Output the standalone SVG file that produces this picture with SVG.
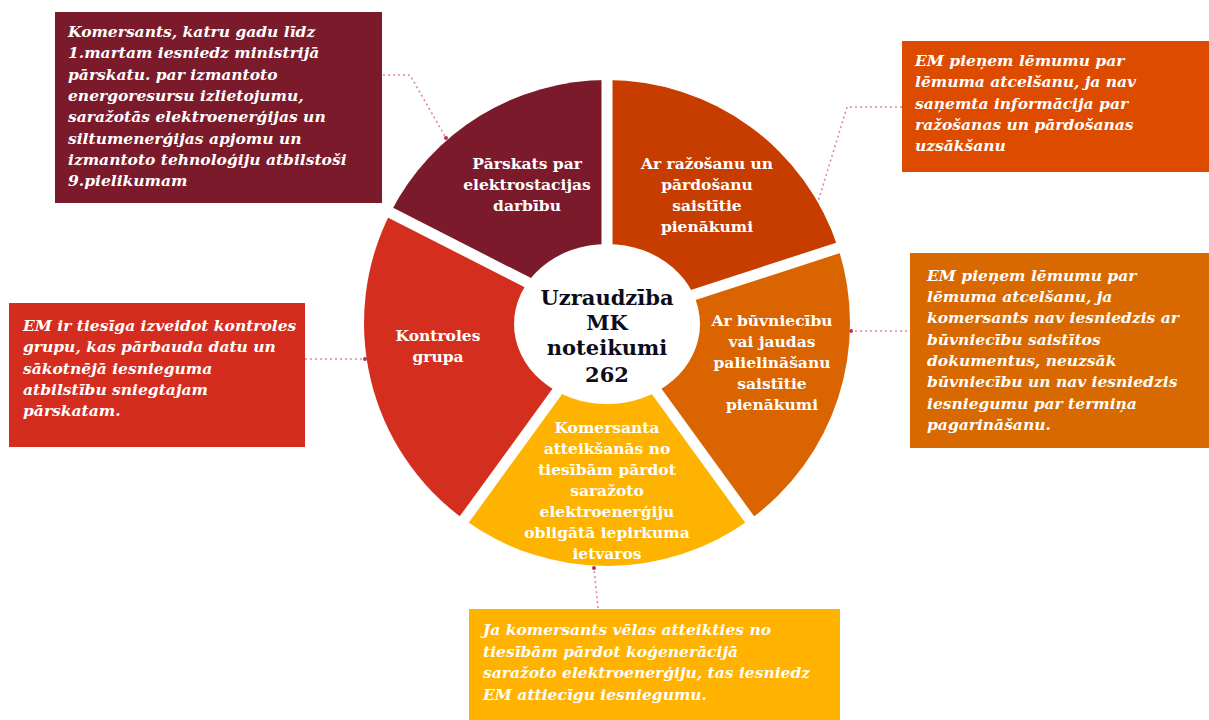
<svg xmlns="http://www.w3.org/2000/svg" width="1209" height="720" viewBox="0 0 1209 720">
<style>
.bt{font-family:"DejaVu Serif","Liberation Serif",serif;font-weight:bold;font-style:italic;font-size:15.5px;fill:#fff}
.st{font-family:"DejaVu Serif","Liberation Serif",serif;font-weight:bold;font-size:15.5px;fill:#fff;text-anchor:middle}
.ct{font-family:"DejaVu Serif","Liberation Serif",serif;font-weight:bold;font-size:21px;fill:#0d0d1a;text-anchor:middle}
.dl{fill:none;stroke:#de8a98;stroke-width:1.6;stroke-dasharray:2 3}
.dot{fill:#b8304e}
.gap{stroke:#fff;stroke-width:11}
</style>
<rect width="1209" height="720" fill="#fff"/>
<g id="connectors">
<polyline class="dl" points="383,75 410,75 446,138"/>
<circle class="dot" cx="446" cy="138" r="2"/>
<polyline class="dl" points="902,107 847,107 817,205"/>
<circle class="dot" cx="817" cy="205" r="2"/>
<line class="dl" x1="912" y1="331" x2="851" y2="331"/>
<circle class="dot" cx="851" cy="331" r="2"/>
<line class="dl" x1="305" y1="359" x2="365" y2="359"/>
<circle class="dot" cx="365" cy="359" r="2"/>
<line class="dl" x1="598" y1="608" x2="594" y2="568"/>
<circle class="dot" cx="594" cy="568" r="2"/>
</g>
<g id="donut">
<path id="seg-orange" d="M607,323 L607,80 A243,243 0 0 1 838.1,247.9 Z" fill="#c73d00"/>
<path id="seg-rorange" d="M607,323 L838.1,247.9 A243,243 0 0 1 749.8,519.6 Z" fill="#d96400"/>
<path id="seg-yellow" d="M607,323 L749.8,519.6 A243,243 0 0 1 464.2,519.6 Z" fill="#feb300"/>
<path id="seg-red" d="M607,323 L464.2,519.6 A243,243 0 0 1 390.5,212.7 Z" fill="#d42e1e"/>
<path id="seg-maroon" d="M607,323 L390.5,212.7 A243,243 0 0 1 607,80 Z" fill="#7b1a2b"/>
<line class="gap" x1="607" y1="323" x2="607" y2="70"/>
<line class="gap" x1="607" y1="323" x2="844.8" y2="245.7"/>
<line class="gap" x1="607" y1="323" x2="753.9" y2="525.3"/>
<line class="gap" x1="607" y1="323" x2="460" y2="525.3"/>
<line class="gap" x1="607" y1="323" x2="384.3" y2="209.5"/>
<ellipse cx="607" cy="324" rx="93" ry="80" fill="#fff"/>
</g>
<g id="center">
<text class="ct" x="607" y="305">Uzraudzība</text>
<text class="ct" x="607" y="330">MK</text>
<text class="ct" x="607" y="355">noteikumi</text>
<text class="ct" x="607" y="382">262</text>
</g>
<g id="label-maroon">
<text class="st" x="527" y="169">Pārskats par</text>
<text class="st" x="527" y="190">elektrostacijas</text>
<text class="st" x="527" y="211">darbību</text>
</g>
<g id="label-orange">
<text class="st" x="707" y="169">Ar ražošanu un</text>
<text class="st" x="707" y="190">pārdošanu</text>
<text class="st" x="707" y="211">saistītie</text>
<text class="st" x="707" y="232">pienākumi</text>
</g>
<g id="label-rorange">
<text class="st" x="772" y="326">Ar būvniecību</text>
<text class="st" x="772" y="347">vai jaudas</text>
<text class="st" x="772" y="368">palielināšanu</text>
<text class="st" x="772" y="389">saistītie</text>
<text class="st" x="772" y="410">pienākumi</text>
</g>
<g id="label-yellow">
<text class="st" x="607" y="433">Komersanta</text>
<text class="st" x="607" y="454">atteikšanās no</text>
<text class="st" x="607" y="475">tiesībām pārdot</text>
<text class="st" x="607" y="496">saražoto</text>
<text class="st" x="607" y="517">elektroenerģiju</text>
<text class="st" x="607" y="538">obligātā iepirkuma</text>
<text class="st" x="607" y="559">ietvaros</text>
</g>
<g id="label-red">
<text class="st" x="438" y="341">Kontroles</text>
<text class="st" x="438" y="362">grupa</text>
</g>
<g id="box-maroon">
<rect x="55" y="12" width="327" height="191" fill="#7a1a2a"/>
<text class="bt" x="68" y="37">Komersants, katru gadu līdz</text>
<text class="bt" x="68" y="58">1.martam iesniedz ministrijā</text>
<text class="bt" x="68" y="80">pārskatu. par izmantoto</text>
<text class="bt" x="68" y="101">energoresursu izlietojumu,</text>
<text class="bt" x="68" y="122">saražotās elektroenerģijas un</text>
<text class="bt" x="68" y="144">siltumenerģijas apjomu un</text>
<text class="bt" x="68" y="165">izmantoto tehnoloģiju atbilstoši</text>
<text class="bt" x="68" y="186">9.pielikumam</text>
</g>
<g id="box-orange">
<rect x="902" y="41" width="307" height="131" fill="#dd4b00"/>
<text class="bt" x="915" y="66">EM pieņem lēmumu par</text>
<text class="bt" x="915" y="87">lēmuma atcelšanu, ja nav</text>
<text class="bt" x="915" y="109">saņemta informācija par</text>
<text class="bt" x="915" y="130">ražošanas un pārdošanas</text>
<text class="bt" x="915" y="151">uzsākšanu</text>
</g>
<g id="box-rorange">
<rect x="910" y="253" width="299" height="195" fill="#d86900"/>
<text class="bt" x="927" y="281">EM pieņem lēmumu par</text>
<text class="bt" x="927" y="302">lēmuma atcelšanu, ja</text>
<text class="bt" x="927" y="323">komersants nav iesniedzis ar</text>
<text class="bt" x="927" y="345">būvniecību saistītos</text>
<text class="bt" x="927" y="366">dokumentus, neuzsāk</text>
<text class="bt" x="927" y="387">būvniecību un nav iesniedzis</text>
<text class="bt" x="927" y="409">iesniegumu par termiņa</text>
<text class="bt" x="927" y="430">pagarināšanu.</text>
</g>
<g id="box-red">
<rect x="9" y="303" width="296" height="144" fill="#d42c1e"/>
<text class="bt" x="23" y="331">EM ir tiesīga izveidot kontroles</text>
<text class="bt" x="23" y="352">grupu, kas pārbauda datu un</text>
<text class="bt" x="23" y="374">sākotnējā iesnieguma</text>
<text class="bt" x="23" y="395">atbilstību sniegtajam</text>
<text class="bt" x="23" y="416">pārskatam.</text>
</g>
<g id="box-yellow">
<rect x="469" y="609" width="371" height="111" fill="#ffb300"/>
<text class="bt" x="483" y="635">Ja komersants vēlas atteikties no</text>
<text class="bt" x="483" y="657">tiesībām pārdot koģenerācijā</text>
<text class="bt" x="483" y="678">saražoto elektroenerģiju, tas iesniedz</text>
<text class="bt" x="483" y="700">EM attiecīgu iesniegumu.</text>
</g>
</svg>
